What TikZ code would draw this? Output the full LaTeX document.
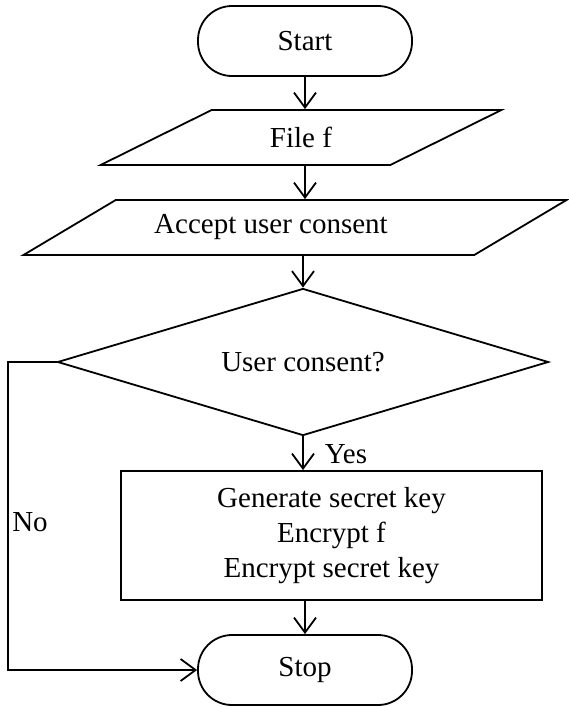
\documentclass[tikz,border=0pt]{standalone}
\usepackage{fontspec}
\setmainfont{Liberation Serif}
\usetikzlibrary{shapes.geometric,arrows.meta}

\begin{document}
\begin{tikzpicture}[x=0.5pt,y=-0.5pt,line width=0.9pt,
>={Straight Barb[length=7.5pt,width=11pt]},
every node/.style={font=\fontsize{14.5}{17.5}\selectfont},
terminal/.style={rectangle,draw=black,rounded corners=17pt,minimum width=107pt,minimum height=35pt},
io/.style={trapezium,draw=black,trapezium stretches=true,minimum height=27.5pt},
decision/.style={diamond,draw=black,aspect=3.34,inner sep=0pt,minimum width=245.5pt,minimum height=73.5pt},
process/.style={rectangle,draw=black,align=center,minimum width=210.5pt,minimum height=64.5pt}]

\useasboundingbox (0,0) rectangle (568,707);

% Start and input
\def\X{305}
\node[terminal] (start) at (\X,41) {Start};
\node[io,trapezium left angle=36,trapezium right angle=144,minimum width=201pt] (file) at (301,137.5) {File f};
\node[io,trapezium left angle=27,trapezium right angle=153,minimum width=272pt] (accept) at (295,227.5) {Accept user consent\hspace*{24pt}};

% Decision
\node[decision] (consent) at (303,362) {User consent?};

% Processing
\node[process] (crypt) at (331.5,535.5) {Generate secret key\\Encrypt f\\Encrypt secret key};

% Stop
\node[terminal] (stop) at (\X,670) {Stop};

% Labels
\node (yes) at (346,454) {Yes};
\node (no) at (30,522) {No};

% Arrows
\draw [->] (start) -- (start |- file.north);
\draw [->] (file.south -| start) -- (accept.north -| start);
\draw [->] (accept.south -| consent) -- (consent);
\draw [->] (consent) -- (consent |- crypt.north);
\draw [->] (crypt.south -| stop) -- (stop);
\coordinate (corner) at (8,362);
\draw [->] (consent.west) -- (corner) |- (stop.west);

\end{tikzpicture}
\end{document}
